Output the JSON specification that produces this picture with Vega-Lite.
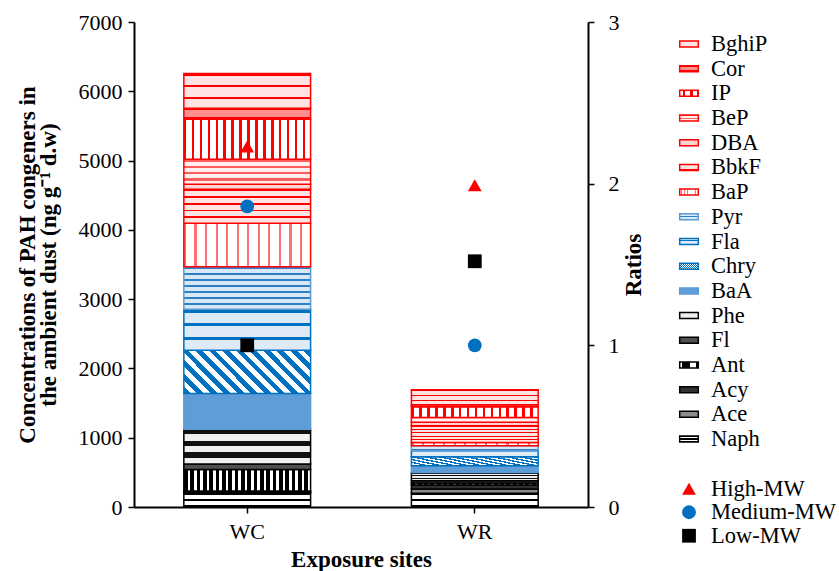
{
  "$schema": "https://vega.github.io/schema/vega-lite/v6.json",
  "autosize": {"type": "pad"},
  "padding": {"left": 16, "top": 11, "right": 0, "bottom": 0},
  "background": "white",
  "bounds": "flush",
  "spacing": 82,
  "params": [
    {"name": "pahFill", "value": {
      "BghiP": {"gradient": "linear", "x1": 0, "y1": 0, "x2": 0, "y2": 1, "stops": [
        {"offset": 0, "color": "#f00"}, {"offset": 0.07, "color": "#f00"}, {"offset": 0.07, "color": "#ffe2e2"}, {"offset": 0.333, "color": "#ffe2e2"},
        {"offset": 0.333, "color": "#f00"}, {"offset": 0.4, "color": "#f00"}, {"offset": 0.4, "color": "#ffe2e2"}, {"offset": 0.667, "color": "#ffe2e2"},
        {"offset": 0.667, "color": "#f00"}, {"offset": 0.733, "color": "#f00"}, {"offset": 0.733, "color": "#ffe2e2"}, {"offset": 1, "color": "#ffe2e2"}]},
      "Cor": {"gradient": "linear", "x1": 0, "y1": 0, "x2": 0, "y2": 1, "stops": [
        {"offset": 0, "color": "#f00"}, {"offset": 0.2, "color": "#f00"}, {"offset": 0.2, "color": "#ff8f8f"}, {"offset": 0.8, "color": "#ff8f8f"},
        {"offset": 0.8, "color": "#f00"}, {"offset": 1, "color": "#f00"}]},
      "IP": {"gradient": "linear", "x1": 0, "y1": 0, "x2": 1, "y2": 0, "stops": [
        {"offset": 0, "color": "#f00"}, {"offset": 0.02, "color": "#f00"}, {"offset": 0.02, "color": "#fff"}, {"offset": 0.0625, "color": "#fff"},
        {"offset": 0.0625, "color": "#f00"}, {"offset": 0.0825, "color": "#f00"}, {"offset": 0.0825, "color": "#fff"}, {"offset": 0.125, "color": "#fff"},
        {"offset": 0.125, "color": "#f00"}, {"offset": 0.145, "color": "#f00"}, {"offset": 0.145, "color": "#fff"}, {"offset": 0.1875, "color": "#fff"},
        {"offset": 0.1875, "color": "#f00"}, {"offset": 0.2075, "color": "#f00"}, {"offset": 0.2075, "color": "#fff"}, {"offset": 0.25, "color": "#fff"},
        {"offset": 0.25, "color": "#f00"}, {"offset": 0.27, "color": "#f00"}, {"offset": 0.27, "color": "#fff"}, {"offset": 0.3125, "color": "#fff"},
        {"offset": 0.3125, "color": "#f00"}, {"offset": 0.3325, "color": "#f00"}, {"offset": 0.3325, "color": "#fff"}, {"offset": 0.375, "color": "#fff"},
        {"offset": 0.375, "color": "#f00"}, {"offset": 0.395, "color": "#f00"}, {"offset": 0.395, "color": "#fff"}, {"offset": 0.4375, "color": "#fff"},
        {"offset": 0.4375, "color": "#f00"}, {"offset": 0.4575, "color": "#f00"}, {"offset": 0.4575, "color": "#fff"}, {"offset": 0.5, "color": "#fff"},
        {"offset": 0.5, "color": "#f00"}, {"offset": 0.52, "color": "#f00"}, {"offset": 0.52, "color": "#fff"}, {"offset": 0.5625, "color": "#fff"},
        {"offset": 0.5625, "color": "#f00"}, {"offset": 0.5825, "color": "#f00"}, {"offset": 0.5825, "color": "#fff"}, {"offset": 0.625, "color": "#fff"},
        {"offset": 0.625, "color": "#f00"}, {"offset": 0.645, "color": "#f00"}, {"offset": 0.645, "color": "#fff"}, {"offset": 0.6875, "color": "#fff"},
        {"offset": 0.6875, "color": "#f00"}, {"offset": 0.7075, "color": "#f00"}, {"offset": 0.7075, "color": "#fff"}, {"offset": 0.75, "color": "#fff"},
        {"offset": 0.75, "color": "#f00"}, {"offset": 0.77, "color": "#f00"}, {"offset": 0.77, "color": "#fff"}, {"offset": 0.8125, "color": "#fff"},
        {"offset": 0.8125, "color": "#f00"}, {"offset": 0.8325, "color": "#f00"}, {"offset": 0.8325, "color": "#fff"}, {"offset": 0.875, "color": "#fff"},
        {"offset": 0.875, "color": "#f00"}, {"offset": 0.895, "color": "#f00"}, {"offset": 0.895, "color": "#fff"}, {"offset": 0.9375, "color": "#fff"},
        {"offset": 0.9375, "color": "#f00"}, {"offset": 0.9575, "color": "#f00"}, {"offset": 0.9575, "color": "#fff"}, {"offset": 1, "color": "#fff"}]},
      "BeP": {"gradient": "linear", "x1": 0, "y1": 0, "x2": 0, "y2": 1, "stops": [
        {"offset": 0, "color": "#ff5c5c"}, {"offset": 0.1, "color": "#ff5c5c"}, {"offset": 0.1, "color": "#fff0f0"}, {"offset": 0.25, "color": "#fff0f0"},
        {"offset": 0.25, "color": "#ff5c5c"}, {"offset": 0.35, "color": "#ff5c5c"}, {"offset": 0.35, "color": "#fff0f0"}, {"offset": 0.5, "color": "#fff0f0"},
        {"offset": 0.5, "color": "#ff5c5c"}, {"offset": 0.6, "color": "#ff5c5c"}, {"offset": 0.6, "color": "#fff0f0"}, {"offset": 0.75, "color": "#fff0f0"},
        {"offset": 0.75, "color": "#ff5c5c"}, {"offset": 0.85, "color": "#ff5c5c"}, {"offset": 0.85, "color": "#fff0f0"}, {"offset": 1, "color": "#fff0f0"}]},
      "DBA": "#ffd4d4",
      "BbkF": {"gradient": "linear", "x1": 0, "y1": 0, "x2": 0, "y2": 1, "stops": [
        {"offset": 0, "color": "#f00"}, {"offset": 0.05, "color": "#f00"}, {"offset": 0.05, "color": "#ffe4e4"}, {"offset": 0.2, "color": "#ffe4e4"},
        {"offset": 0.2, "color": "#f00"}, {"offset": 0.25, "color": "#f00"}, {"offset": 0.25, "color": "#ffe4e4"}, {"offset": 0.4, "color": "#ffe4e4"},
        {"offset": 0.4, "color": "#f00"}, {"offset": 0.45, "color": "#f00"}, {"offset": 0.45, "color": "#ffe4e4"}, {"offset": 0.6, "color": "#ffe4e4"},
        {"offset": 0.6, "color": "#f00"}, {"offset": 0.65, "color": "#f00"}, {"offset": 0.65, "color": "#ffe4e4"}, {"offset": 0.8, "color": "#ffe4e4"},
        {"offset": 0.8, "color": "#f00"}, {"offset": 0.85, "color": "#f00"}, {"offset": 0.85, "color": "#ffe4e4"}, {"offset": 1, "color": "#ffe4e4"}]},
      "BaP": {"gradient": "linear", "x1": 0, "y1": 0, "x2": 1, "y2": 0, "stops": [
        {"offset": 0, "color": "#ff7070"}, {"offset": 0.0167, "color": "#ff7070"}, {"offset": 0.0167, "color": "#fff"}, {"offset": 0.0833, "color": "#fff"},
        {"offset": 0.0833, "color": "#ff7070"}, {"offset": 0.1, "color": "#ff7070"}, {"offset": 0.1, "color": "#fff"}, {"offset": 0.1667, "color": "#fff"},
        {"offset": 0.1667, "color": "#ff7070"}, {"offset": 0.1833, "color": "#ff7070"}, {"offset": 0.1833, "color": "#fff"}, {"offset": 0.25, "color": "#fff"},
        {"offset": 0.25, "color": "#ff7070"}, {"offset": 0.2667, "color": "#ff7070"}, {"offset": 0.2667, "color": "#fff"}, {"offset": 0.3333, "color": "#fff"},
        {"offset": 0.3333, "color": "#ff7070"}, {"offset": 0.35, "color": "#ff7070"}, {"offset": 0.35, "color": "#fff"}, {"offset": 0.4167, "color": "#fff"},
        {"offset": 0.4167, "color": "#ff7070"}, {"offset": 0.4333, "color": "#ff7070"}, {"offset": 0.4333, "color": "#fff"}, {"offset": 0.5, "color": "#fff"},
        {"offset": 0.5, "color": "#ff7070"}, {"offset": 0.5167, "color": "#ff7070"}, {"offset": 0.5167, "color": "#fff"}, {"offset": 0.5833, "color": "#fff"},
        {"offset": 0.5833, "color": "#ff7070"}, {"offset": 0.6, "color": "#ff7070"}, {"offset": 0.6, "color": "#fff"}, {"offset": 0.6667, "color": "#fff"},
        {"offset": 0.6667, "color": "#ff7070"}, {"offset": 0.6833, "color": "#ff7070"}, {"offset": 0.6833, "color": "#fff"}, {"offset": 0.75, "color": "#fff"},
        {"offset": 0.75, "color": "#ff7070"}, {"offset": 0.7667, "color": "#ff7070"}, {"offset": 0.7667, "color": "#fff"}, {"offset": 0.8333, "color": "#fff"},
        {"offset": 0.8333, "color": "#ff7070"}, {"offset": 0.85, "color": "#ff7070"}, {"offset": 0.85, "color": "#fff"}, {"offset": 0.9167, "color": "#fff"},
        {"offset": 0.9167, "color": "#ff7070"}, {"offset": 0.9333, "color": "#ff7070"}, {"offset": 0.9333, "color": "#fff"}, {"offset": 1, "color": "#fff"}]},
      "Pyr": {"gradient": "linear", "x1": 0, "y1": 0, "x2": 0, "y2": 1, "stops": [
        {"offset": 0, "color": "#2f7fc8"}, {"offset": 0.04, "color": "#2f7fc8"}, {"offset": 0.04, "color": "#d9e8f6"}, {"offset": 0.143, "color": "#d9e8f6"},
        {"offset": 0.143, "color": "#2f7fc8"}, {"offset": 0.183, "color": "#2f7fc8"}, {"offset": 0.183, "color": "#d9e8f6"}, {"offset": 0.286, "color": "#d9e8f6"},
        {"offset": 0.286, "color": "#2f7fc8"}, {"offset": 0.326, "color": "#2f7fc8"}, {"offset": 0.326, "color": "#d9e8f6"}, {"offset": 0.429, "color": "#d9e8f6"},
        {"offset": 0.429, "color": "#2f7fc8"}, {"offset": 0.469, "color": "#2f7fc8"}, {"offset": 0.469, "color": "#d9e8f6"}, {"offset": 0.571, "color": "#d9e8f6"},
        {"offset": 0.571, "color": "#2f7fc8"}, {"offset": 0.611, "color": "#2f7fc8"}, {"offset": 0.611, "color": "#d9e8f6"}, {"offset": 0.714, "color": "#d9e8f6"},
        {"offset": 0.714, "color": "#2f7fc8"}, {"offset": 0.754, "color": "#2f7fc8"}, {"offset": 0.754, "color": "#d9e8f6"}, {"offset": 0.857, "color": "#d9e8f6"},
        {"offset": 0.857, "color": "#2f7fc8"}, {"offset": 0.897, "color": "#2f7fc8"}, {"offset": 0.897, "color": "#d9e8f6"}, {"offset": 1, "color": "#d9e8f6"}]},
      "Fla": {"gradient": "linear", "x1": 0, "y1": 0, "x2": 0, "y2": 1, "stops": [
        {"offset": 0, "color": "#0070c0"}, {"offset": 0.08, "color": "#0070c0"}, {"offset": 0.08, "color": "#deebf7"}, {"offset": 0.333, "color": "#deebf7"},
        {"offset": 0.333, "color": "#0070c0"}, {"offset": 0.413, "color": "#0070c0"}, {"offset": 0.413, "color": "#deebf7"}, {"offset": 0.667, "color": "#deebf7"},
        {"offset": 0.667, "color": "#0070c0"}, {"offset": 0.747, "color": "#0070c0"}, {"offset": 0.747, "color": "#deebf7"}, {"offset": 1, "color": "#deebf7"}]},
      "Chry": {"gradient": "linear", "x1": -0.34, "y1": 0, "x2": 1, "y2": -0.4556, "stops": [
        {"offset": 0, "color": "#0070c0"}, {"offset": 0.0357, "color": "#0070c0"}, {"offset": 0.0357, "color": "#fff"}, {"offset": 0.0714, "color": "#fff"},
        {"offset": 0.0714, "color": "#0070c0"}, {"offset": 0.1071, "color": "#0070c0"}, {"offset": 0.1071, "color": "#fff"}, {"offset": 0.1429, "color": "#fff"},
        {"offset": 0.1429, "color": "#0070c0"}, {"offset": 0.1786, "color": "#0070c0"}, {"offset": 0.1786, "color": "#fff"}, {"offset": 0.2143, "color": "#fff"},
        {"offset": 0.2143, "color": "#0070c0"}, {"offset": 0.25, "color": "#0070c0"}, {"offset": 0.25, "color": "#fff"}, {"offset": 0.2857, "color": "#fff"},
        {"offset": 0.2857, "color": "#0070c0"}, {"offset": 0.3214, "color": "#0070c0"}, {"offset": 0.3214, "color": "#fff"}, {"offset": 0.3571, "color": "#fff"},
        {"offset": 0.3571, "color": "#0070c0"}, {"offset": 0.3929, "color": "#0070c0"}, {"offset": 0.3929, "color": "#fff"}, {"offset": 0.4286, "color": "#fff"},
        {"offset": 0.4286, "color": "#0070c0"}, {"offset": 0.4643, "color": "#0070c0"}, {"offset": 0.4643, "color": "#fff"}, {"offset": 0.5, "color": "#fff"},
        {"offset": 0.5, "color": "#0070c0"}, {"offset": 0.5357, "color": "#0070c0"}, {"offset": 0.5357, "color": "#fff"}, {"offset": 0.5714, "color": "#fff"},
        {"offset": 0.5714, "color": "#0070c0"}, {"offset": 0.6071, "color": "#0070c0"}, {"offset": 0.6071, "color": "#fff"}, {"offset": 0.6429, "color": "#fff"},
        {"offset": 0.6429, "color": "#0070c0"}, {"offset": 0.6786, "color": "#0070c0"}, {"offset": 0.6786, "color": "#fff"}, {"offset": 0.7143, "color": "#fff"},
        {"offset": 0.7143, "color": "#0070c0"}, {"offset": 0.75, "color": "#0070c0"}, {"offset": 0.75, "color": "#fff"}, {"offset": 0.7857, "color": "#fff"},
        {"offset": 0.7857, "color": "#0070c0"}, {"offset": 0.8214, "color": "#0070c0"}, {"offset": 0.8214, "color": "#fff"}, {"offset": 0.8571, "color": "#fff"},
        {"offset": 0.8571, "color": "#0070c0"}, {"offset": 0.8929, "color": "#0070c0"}, {"offset": 0.8929, "color": "#fff"}, {"offset": 0.9286, "color": "#fff"},
        {"offset": 0.9286, "color": "#0070c0"}, {"offset": 0.9643, "color": "#0070c0"}, {"offset": 0.9643, "color": "#fff"}, {"offset": 1, "color": "#fff"}]},
      "BaA": "#5f9dd8",
      "Phe": {"gradient": "linear", "x1": 0, "y1": 0, "x2": 0, "y2": 1, "stops": [
        {"offset": 0, "color": "#111"}, {"offset": 0.15, "color": "#111"}, {"offset": 0.15, "color": "#f0f0f0"}, {"offset": 0.333, "color": "#f0f0f0"},
        {"offset": 0.333, "color": "#111"}, {"offset": 0.483, "color": "#111"}, {"offset": 0.483, "color": "#f0f0f0"}, {"offset": 0.667, "color": "#f0f0f0"},
        {"offset": 0.667, "color": "#111"}, {"offset": 0.817, "color": "#111"}, {"offset": 0.817, "color": "#f0f0f0"}, {"offset": 1, "color": "#f0f0f0"}]},
      "Fl": "#505050",
      "Ant": {"gradient": "linear", "x1": 0, "y1": 0, "x2": 1, "y2": 0, "stops": [
        {"offset": 0, "color": "#000"}, {"offset": 0.03, "color": "#000"}, {"offset": 0.03, "color": "#fff"}, {"offset": 0.05, "color": "#fff"},
        {"offset": 0.05, "color": "#000"}, {"offset": 0.08, "color": "#000"}, {"offset": 0.08, "color": "#fff"}, {"offset": 0.1, "color": "#fff"},
        {"offset": 0.1, "color": "#000"}, {"offset": 0.13, "color": "#000"}, {"offset": 0.13, "color": "#fff"}, {"offset": 0.15, "color": "#fff"},
        {"offset": 0.15, "color": "#000"}, {"offset": 0.18, "color": "#000"}, {"offset": 0.18, "color": "#fff"}, {"offset": 0.2, "color": "#fff"},
        {"offset": 0.2, "color": "#000"}, {"offset": 0.23, "color": "#000"}, {"offset": 0.23, "color": "#fff"}, {"offset": 0.25, "color": "#fff"},
        {"offset": 0.25, "color": "#000"}, {"offset": 0.28, "color": "#000"}, {"offset": 0.28, "color": "#fff"}, {"offset": 0.3, "color": "#fff"},
        {"offset": 0.3, "color": "#000"}, {"offset": 0.33, "color": "#000"}, {"offset": 0.33, "color": "#fff"}, {"offset": 0.35, "color": "#fff"},
        {"offset": 0.35, "color": "#000"}, {"offset": 0.38, "color": "#000"}, {"offset": 0.38, "color": "#fff"}, {"offset": 0.4, "color": "#fff"},
        {"offset": 0.4, "color": "#000"}, {"offset": 0.43, "color": "#000"}, {"offset": 0.43, "color": "#fff"}, {"offset": 0.45, "color": "#fff"},
        {"offset": 0.45, "color": "#000"}, {"offset": 0.48, "color": "#000"}, {"offset": 0.48, "color": "#fff"}, {"offset": 0.5, "color": "#fff"},
        {"offset": 0.5, "color": "#000"}, {"offset": 0.53, "color": "#000"}, {"offset": 0.53, "color": "#fff"}, {"offset": 0.55, "color": "#fff"},
        {"offset": 0.55, "color": "#000"}, {"offset": 0.58, "color": "#000"}, {"offset": 0.58, "color": "#fff"}, {"offset": 0.6, "color": "#fff"},
        {"offset": 0.6, "color": "#000"}, {"offset": 0.63, "color": "#000"}, {"offset": 0.63, "color": "#fff"}, {"offset": 0.65, "color": "#fff"},
        {"offset": 0.65, "color": "#000"}, {"offset": 0.68, "color": "#000"}, {"offset": 0.68, "color": "#fff"}, {"offset": 0.7, "color": "#fff"},
        {"offset": 0.7, "color": "#000"}, {"offset": 0.73, "color": "#000"}, {"offset": 0.73, "color": "#fff"}, {"offset": 0.75, "color": "#fff"},
        {"offset": 0.75, "color": "#000"}, {"offset": 0.78, "color": "#000"}, {"offset": 0.78, "color": "#fff"}, {"offset": 0.8, "color": "#fff"},
        {"offset": 0.8, "color": "#000"}, {"offset": 0.83, "color": "#000"}, {"offset": 0.83, "color": "#fff"}, {"offset": 0.85, "color": "#fff"},
        {"offset": 0.85, "color": "#000"}, {"offset": 0.88, "color": "#000"}, {"offset": 0.88, "color": "#fff"}, {"offset": 0.9, "color": "#fff"},
        {"offset": 0.9, "color": "#000"}, {"offset": 0.93, "color": "#000"}, {"offset": 0.93, "color": "#fff"}, {"offset": 0.95, "color": "#fff"},
        {"offset": 0.95, "color": "#000"}, {"offset": 0.98, "color": "#000"}, {"offset": 0.98, "color": "#fff"}, {"offset": 1, "color": "#fff"}]},
      "Acy": "#303030",
      "Ace": "#8c8c8c",
      "Naph": {"gradient": "linear", "x1": 0, "y1": 0, "x2": 0, "y2": 1, "stops": [
        {"offset": 0, "color": "#000"}, {"offset": 0.15, "color": "#000"}, {"offset": 0.15, "color": "#fff"}, {"offset": 0.4, "color": "#fff"},
        {"offset": 0.4, "color": "#000"}, {"offset": 0.6, "color": "#000"}, {"offset": 0.6, "color": "#fff"}, {"offset": 0.85, "color": "#fff"},
        {"offset": 0.85, "color": "#000"}, {"offset": 1, "color": "#000"}]}
    }},
    {"name": "pahStroke", "value": {
      "BghiP": "#ff0000", "Cor": "#ff0000", "IP": "#ff0000", "BeP": "#ff0000", "DBA": "#ff0000", "BbkF": "#ff0000", "BaP": "#ff0000",
      "Pyr": "#5b9bd5", "Fla": "#0070c0", "Chry": "#0070c0", "BaA": "#5b9bd5",
      "Phe": "#000000", "Fl": "#000000", "Ant": "#000000", "Acy": "#000000", "Ace": "#000000", "Naph": "#000000"
    }}
  ],
  "datasets": {
    "conc": [
      {"site": "WC", "pah": "Naph", "value": 200},
      {"site": "WC", "pah": "Ace", "value": 15},
      {"site": "WC", "pah": "Acy", "value": 15},
      {"site": "WC", "pah": "Ant", "value": 310},
      {"site": "WC", "pah": "Fl", "value": 80},
      {"site": "WC", "pah": "Phe", "value": 502},
      {"site": "WC", "pah": "BaA", "value": 515},
      {"site": "WC", "pah": "Chry", "value": 625},
      {"site": "WC", "pah": "Fla", "value": 592},
      {"site": "WC", "pah": "Pyr", "value": 612},
      {"site": "WC", "pah": "BaP", "value": 629},
      {"site": "WC", "pah": "BbkF", "value": 491},
      {"site": "WC", "pah": "DBA", "value": 72},
      {"site": "WC", "pah": "BeP", "value": 361},
      {"site": "WC", "pah": "IP", "value": 577},
      {"site": "WC", "pah": "Cor", "value": 159},
      {"site": "WC", "pah": "BghiP", "value": 500},
      {"site": "WR", "pah": "Naph", "value": 200},
      {"site": "WR", "pah": "Ace", "value": 58},
      {"site": "WR", "pah": "Acy", "value": 58},
      {"site": "WR", "pah": "Ant", "value": 29},
      {"site": "WR", "pah": "Fl", "value": 33},
      {"site": "WR", "pah": "Phe", "value": 121},
      {"site": "WR", "pah": "BaA", "value": 95},
      {"site": "WR", "pah": "Chry", "value": 130},
      {"site": "WR", "pah": "Fla", "value": 87},
      {"site": "WR", "pah": "Pyr", "value": 72},
      {"site": "WR", "pah": "BaP", "value": 49},
      {"site": "WR", "pah": "BbkF", "value": 240},
      {"site": "WR", "pah": "DBA", "value": 53},
      {"site": "WR", "pah": "BeP", "value": 68},
      {"site": "WR", "pah": "IP", "value": 153},
      {"site": "WR", "pah": "Cor", "value": 29},
      {"site": "WR", "pah": "BghiP", "value": 216}
    ],
    "ratios": [
      {"site": "WC", "type": "High-MW", "ratio": 2.23},
      {"site": "WC", "type": "Medium-MW", "ratio": 1.86},
      {"site": "WC", "type": "Low-MW", "ratio": 1.0},
      {"site": "WR", "type": "High-MW", "ratio": 1.99},
      {"site": "WR", "type": "Medium-MW", "ratio": 1.0},
      {"site": "WR", "type": "Low-MW", "ratio": 1.52}
    ]
  },
  "hconcat": [
    {
      "width": 454,
      "height": 485,
      "layer": [
        {
          "data": {"name": "conc"},
          "transform": [
            {"calculate": "indexof(['Naph','Ace','Acy','Ant','Fl','Phe','BaA','Chry','Fla','Pyr','BaP','BbkF','DBA','BeP','IP','Cor','BghiP'], datum.pah)", "as": "stackOrder"}
          ],
          "mark": {"type": "bar", "strokeWidth": 1.5, "fillOpacity": 1},
          "encoding": {
            "x": {
              "field": "site", "type": "nominal",
              "scale": {"paddingInner": 0.443, "paddingOuter": 0.219},
              "axis": {"labelAngle": 0, "title": "Exposure sites", "labelFont": "Liberation Serif", "titleFont": "Liberation Serif", "labelFontSize": 22, "titleFontSize": 23, "titleFontWeight": "bold", "tickSize": 6, "tickWidth": 1.5, "domainWidth": 2, "labelPadding": 8, "titlePadding": 6}
            },
            "y": {
              "field": "value", "type": "quantitative", "stack": "zero",
              "scale": {"domain": [0, 7000], "nice": false},
              "axis": {"values": [0, 1000, 2000, 3000, 4000, 5000, 6000, 7000], "format": "d", "title": ["Concentrations of PAH congeners in", "the ambient dust (ng g⁻¹ d.w)"], "labelFont": "Liberation Serif", "titleFont": "Liberation Serif", "titleFontSize": 23, "titleLineHeight": 21, "titleFontWeight": "bold", "labelFontSize": 22, "tickSize": 6, "tickWidth": 1.5, "domainWidth": 2, "labelPadding": 6, "titlePadding": 18}
            },
            "detail": {"field": "pah"},
            "order": {"field": "stackOrder", "type": "quantitative", "sort": "ascending"},
            "fill": {"value": {"expr": "pahFill[datum.pah]"}},
            "stroke": {"value": {"expr": "pahStroke[datum.pah]"}}
          }
        },
        {
          "data": {"name": "ratios"},
          "mark": {"type": "point", "filled": true, "opacity": 1, "size": 190},
          "encoding": {
            "x": {"field": "site", "type": "nominal"},
            "y": {
              "field": "ratio", "type": "quantitative",
              "scale": {"domain": [0, 3], "nice": false},
              "axis": {"orient": "right", "values": [0, 1, 2, 3], "title": "Ratios", "titleAngle": -90, "labelFont": "Liberation Serif", "titleFont": "Liberation Serif", "titleFontSize": 23, "titleFontWeight": "bold", "labelFontSize": 22, "tickSize": 6, "tickWidth": 1.5, "domainWidth": 2, "labelPadding": 14, "titlePadding": 26}
            },
            "color": {
              "field": "type", "type": "nominal", "legend": null,
              "scale": {"domain": ["High-MW", "Medium-MW", "Low-MW"], "range": ["#ff0000", "#0070c0", "#000000"]}
            },
            "shape": {
              "field": "type", "type": "nominal", "legend": null,
              "scale": {"domain": ["High-MW", "Medium-MW", "Low-MW"], "range": ["triangle-up", "circle", "square"]}
            }
          }
        }
      ],
      "resolve": {"scale": {"y": "independent"}}
    },
    {
      "bounds": "flush",
      "spacing": 16,
      "vconcat": [
        {
          "width": 38,
          "height": 439,
          "data": {"name": "conc"},
          "transform": [{"filter": "datum.site === 'WC'"}],
          "encoding": {
            "y": {
              "field": "pah", "type": "nominal", "axis": null,
              "scale": {"type": "point", "padding": 0.89, "domain": ["BghiP", "Cor", "IP", "BeP", "DBA", "BbkF", "BaP", "Pyr", "Fla", "Chry", "BaA", "Phe", "Fl", "Ant", "Acy", "Ace", "Naph"]}
            }
          },
          "layer": [
            {
              "mark": {"type": "point", "filled": true, "opacity": 1, "size": 144, "strokeWidth": 1.5, "shape": "M-1.55,-0.5H1.55V0.5H-1.55Z"},
              "encoding": {
                "fill": {"value": {"expr": "pahFill[datum.pah]"}},
                "stroke": {"value": {"expr": "pahStroke[datum.pah]"}}
              }
            },
            {
              "mark": {"type": "text", "align": "left", "baseline": "middle", "dx": 22, "fontSize": 22.5, "font": "Liberation Serif", "color": "#000"},
              "encoding": {"text": {"field": "pah"}}
            }
          ]
        },
        {
          "width": 38,
          "height": 70.5,
          "data": {"name": "ratios"},
          "transform": [{"filter": "datum.site === 'WC'"}],
          "encoding": {
            "y": {
              "field": "type", "type": "nominal", "axis": null,
              "scale": {"type": "point", "padding": 0.5, "domain": ["High-MW", "Medium-MW", "Low-MW"]}
            }
          },
          "layer": [
            {
              "mark": {"type": "point", "filled": true, "opacity": 1, "size": 190},
              "encoding": {
                "color": {"field": "type", "type": "nominal", "legend": null, "scale": {"domain": ["High-MW", "Medium-MW", "Low-MW"], "range": ["#ff0000", "#0070c0", "#000000"]}},
                "shape": {"field": "type", "type": "nominal", "legend": null, "scale": {"domain": ["High-MW", "Medium-MW", "Low-MW"], "range": ["triangle-up", "circle", "square"]}}
              }
            },
            {
              "mark": {"type": "text", "align": "left", "baseline": "middle", "dx": 22, "fontSize": 22.5, "font": "Liberation Serif", "color": "#000"},
              "encoding": {"text": {"field": "type"}}
            }
          ]
        }
      ]
    }
  ],
  "config": {
    "font": "Liberation Serif",
    "view": {"stroke": null},
    "text": {"font": "Liberation Serif"},
    "axis": {"labelFont": "Liberation Serif", "titleFont": "Liberation Serif", "labelColor": "#000", "titleColor": "#000", "domainColor": "#000", "tickColor": "#000", "grid": false}
  }
}
